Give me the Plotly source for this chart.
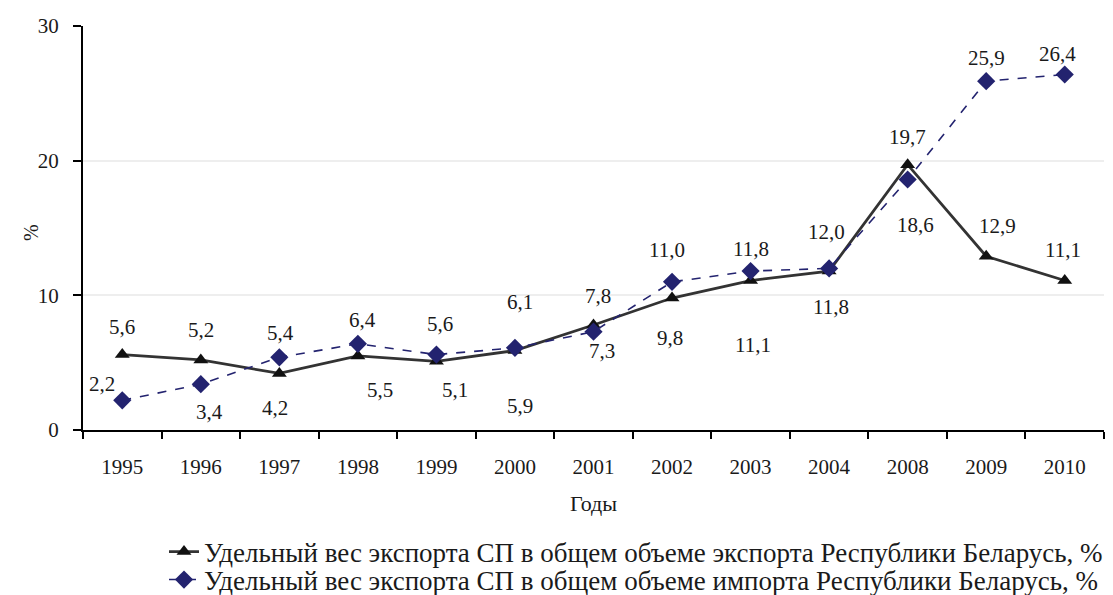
import plotly.graph_objects as go

years = ["1995", "1996", "1997", "1998", "1999", "2000", "2001", "2002", "2003", "2004", "2008", "2009", "2010"]
export_share = [5.6, 5.2, 4.2, 5.5, 5.1, 5.9, 7.8, 9.8, 11.1, 11.8, 19.7, 12.9, 11.1]
import_share = [2.2, 3.4, 5.4, 6.4, 5.6, 6.1, 7.3, 11.0, 11.8, 12.0, 18.6, 25.9, 26.4]

name_export = "Удельный вес экспорта СП в общем объеме экспорта Республики Беларусь, %"
name_import = "Удельный вес экспорта СП в общем объеме импорта Республики Беларусь, %"

# label offsets (px) for each point
exp_shift = [(0, 28), (0, 30), (-4, -35), (22, -34), (19, -29), (5, -55), (4, 29),
             (-2, -40), (2, -64), (2, -36), (0, 28), (11, 30), (-2, 31)]
imp_shift = [(-20, 16), (9, -28), (1, 24), (5, 24), (4, 31), (5, 46), (8, -19),
             (-5, 32), (0, 22), (-3, 36), (8, -45), (0, 23), (-7, 20)]

FONT = "'Liberation Serif', 'Times New Roman', 'DejaVu Serif', serif"

# page has an 8px body margin, so the figure is sized/offset accordingly
W, H = 1105, 587

fig = go.Figure()
fig.add_trace(go.Scatter(
    x=years, y=export_share, name=name_export, mode="lines+markers",
    line=dict(color="#333333", width=2.8),
    marker=dict(symbol="triangle-up", size=13, color="#111111"),
    legend="legend",
))
fig.add_trace(go.Scatter(
    x=years, y=import_share, name=name_import, mode="lines+markers",
    line=dict(color="#23236f", width=1.6, dash="dash"),
    marker=dict(symbol="diamond", size=14, color="#23236f"),
    legend="legend2",
))

def fmt(v):
    return f"{v:.1f}".replace(".", ",")

for series, shifts in ((export_share, exp_shift), (import_share, imp_shift)):
    for i, (yv, (dx, dy)) in enumerate(zip(series, shifts)):
        fig.add_annotation(x=i, y=yv, text=fmt(yv), showarrow=False,
                           xshift=dx, yshift=dy,
                           font=dict(family=FONT, size=21, color="#1a1a1a"))

# y-axis title
fig.add_annotation(xref="paper", yref="paper", x=0, y=0.5, xshift=-65, yshift=-5,
                   text="%", textangle=-90, showarrow=False,
                   font=dict(family=FONT, size=20, color="#1a1a1a"))

leg_common = dict(xref="container", yref="container", xanchor="left", yanchor="middle",
                  font=dict(family=FONT, size=27, color="#1a1a1a"),
                  bgcolor="rgba(0,0,0,0)", borderwidth=0)

fig.update_layout(
    width=W, height=H,
    margin=dict(l=75, r=9, t=18, b=165, autoexpand=False),
    paper_bgcolor="white", plot_bgcolor="white",
    font=dict(family=FONT, size=21, color="#1a1a1a"),
    showlegend=True,
    legend=dict(x=(164 - 8) / W, y=1 - (552 - 8) / H, **leg_common),
    legend2=dict(x=(164 - 8) / W, y=1 - (580 - 8) / H, **leg_common),
)
fig.update_xaxes(
    type="category", categoryorder="array", categoryarray=years,
    range=[-0.5, len(years) - 0.5],
    showline=True, linecolor="black", linewidth=2,
    ticks="outside", tickson="boundaries", ticklen=7, tickcolor="black", tickwidth=2,
    ticklabelstandoff=17,
    showgrid=False, tickfont=dict(family=FONT, size=21), tickangle=0,
    title=dict(text="Годы", font=dict(family=FONT, size=22), standoff=17),
)
fig.update_yaxes(
    range=[0, 30], tickvals=[0, 10, 20, 30], showline=True, linecolor="black", linewidth=2,
    ticks="outside", ticklen=8, tickcolor="black", tickwidth=2,
    ticklabelstandoff=10,
    showgrid=True, gridcolor="#eeeeee", gridwidth=1.5, zeroline=False,
    tickfont=dict(family=FONT, size=21),
)

fig.write_html("out.html")
